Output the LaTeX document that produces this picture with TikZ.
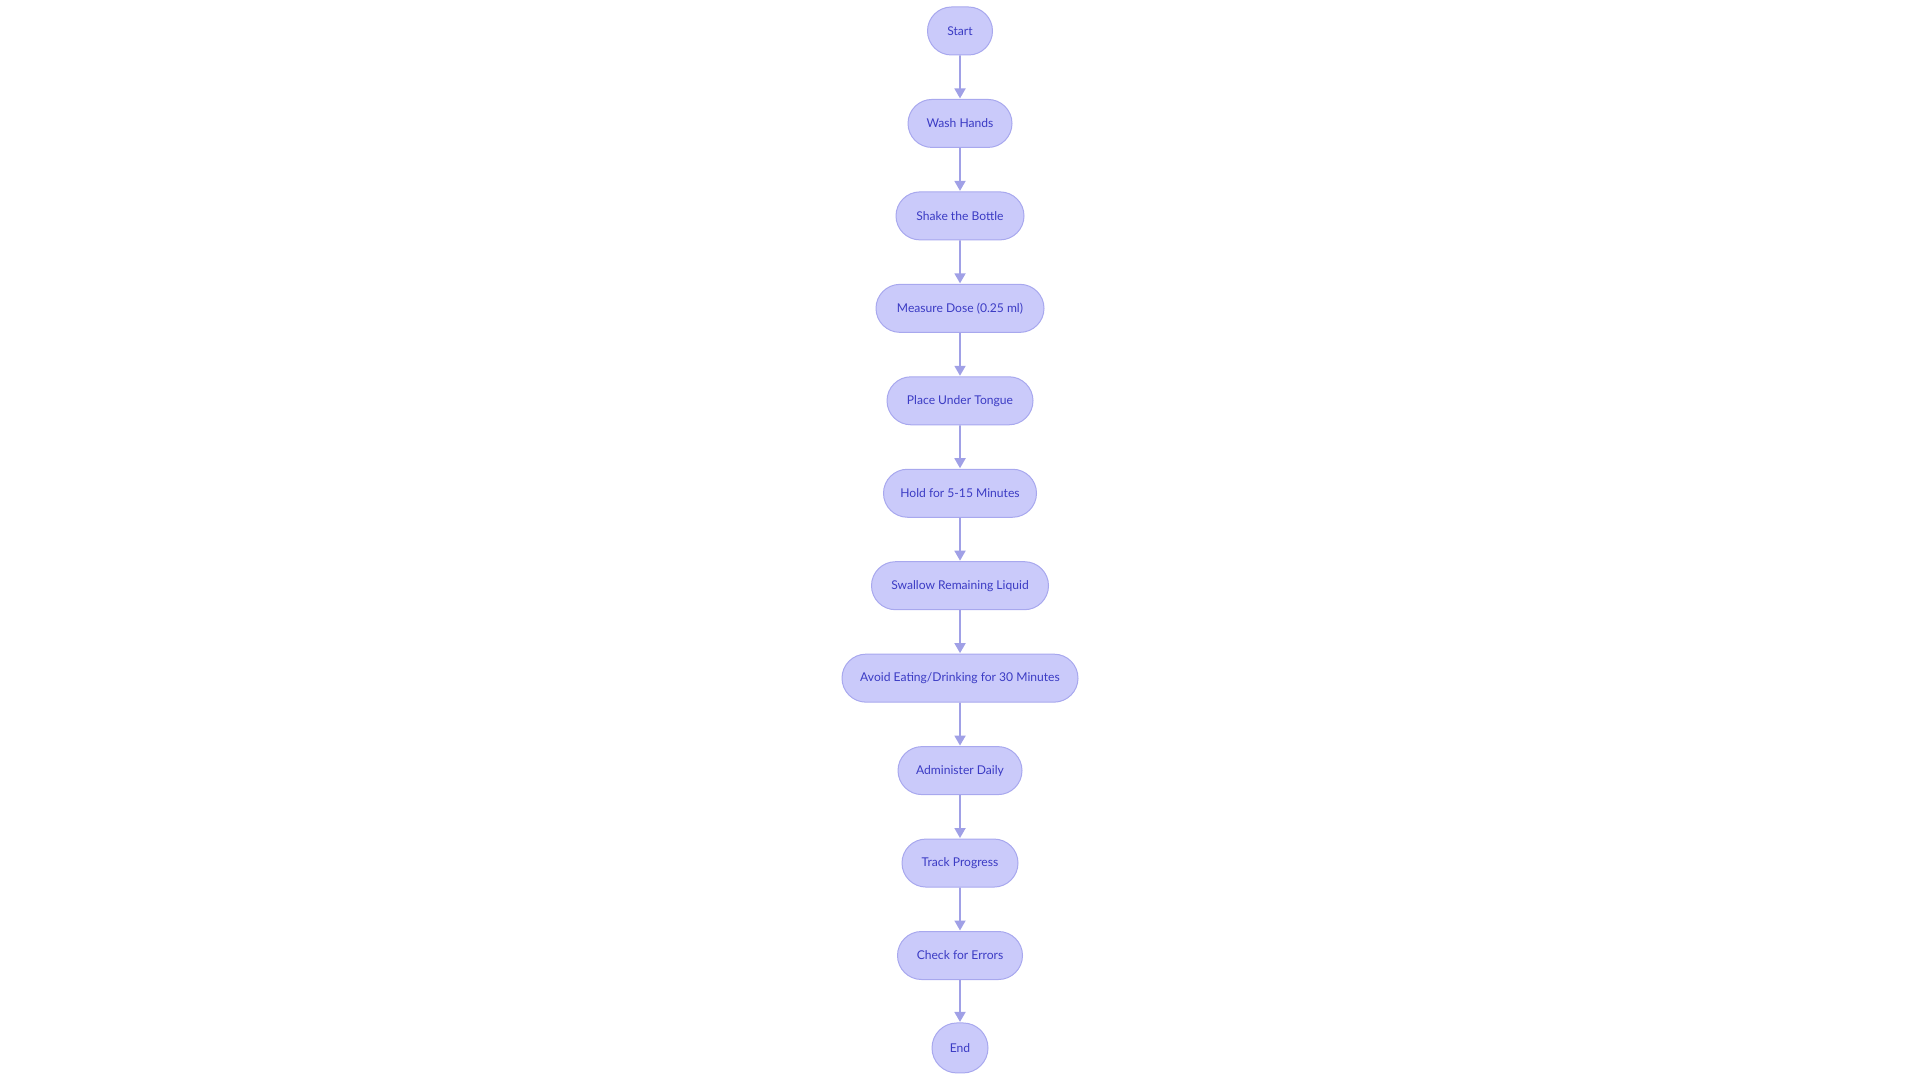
\documentclass[tikz,border=0pt]{standalone}
\usepackage{fontspec}
\setmainfont{Lato}
\usetikzlibrary{shapes.misc,arrows.meta}
\definecolor{nodefill}{HTML}{CACAFA}
\definecolor{nodedraw}{HTML}{A8A8EE}
\definecolor{nodetext}{HTML}{3B3BC4}
\definecolor{linkcol}{HTML}{A0A0E6}
\begin{document}
\begin{tikzpicture}[x=1pt,y=-1pt,
  stepbox/.style={rounded rectangle, draw=nodedraw, fill=nodefill, line width=1pt,
    minimum height=48pt, inner sep=0pt, text=nodetext,
    font=\fontsize{12.1}{14}\selectfont},
  link/.style={draw=linkcol, line width=1.8pt, -{Triangle[length=10pt,width=11pt]}, shorten >=0.5pt}]
\useasboundingbox (0,0) rectangle (1920,1083);
\def\dy{92.45}
\node[stepbox, minimum width=65pt] (n0) at (960,31) {Start};
\node[stepbox, minimum width=104pt] (n1) at (960,31+1*\dy) {Wash Hands};
\node[stepbox, minimum width=128pt] (n2) at (960,31+2*\dy) {Shake the Bottle};
\node[stepbox, minimum width=168pt] (n3) at (960,31+3*\dy) {Measure Dose (0.25 ml)};
\node[stepbox, minimum width=146pt] (n4) at (960,31+4*\dy) {Place Under Tongue};
\node[stepbox, minimum width=153pt] (n5) at (960,31+5*\dy) {Hold for 5-15 Minutes};
\node[stepbox, minimum width=177pt] (n6) at (960,31+6*\dy) {Swallow Remaining Liquid};
\node[stepbox, minimum width=236pt] (n7) at (960,31+7*\dy) {Avoid Eating/Drinking for 30 Minutes};
\node[stepbox, minimum width=124pt] (n8) at (960,31+8*\dy) {Administer Daily};
\node[stepbox, minimum width=116pt] (n9) at (960,31+9*\dy) {Track Progress};
\node[stepbox, minimum width=125pt] (n10) at (960,31+10*\dy) {Check for Errors};
\node[stepbox, minimum width=56pt, minimum height=50pt] (n11) at (960,31+11*\dy) {End};
\foreach \a/\b in {n0/n1,n1/n2,n2/n3,n3/n4,n4/n5,n5/n6,n6/n7,n7/n8,n8/n9,n9/n10,n10/n11}
  \draw[link] (\a) -- (\b);
\end{tikzpicture}
\end{document}
